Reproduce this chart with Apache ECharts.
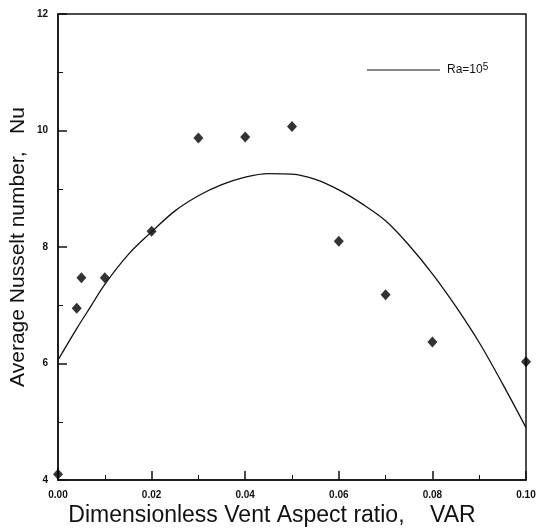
<!DOCTYPE html>
<html>
<head>
<meta charset="utf-8">
<script src="https://cdn.jsdelivr.net/npm/echarts@6/dist/echarts.min.js"></script>
<style>
  html, body { margin: 0; padding: 0; background: #fff; }
  #chart { width: 536px; height: 531px; }
</style>
</head>
<body>
<div id="chart"></div>
<script>
// measured points (diamonds)
const varPoints = [0.0, 0.004, 0.005, 0.01, 0.02, 0.03, 0.04, 0.05, 0.06, 0.07, 0.08, 0.10];
const nuPoints = [4.1, 6.95, 7.47, 7.47, 8.27, 9.87, 9.89, 10.07, 8.1, 7.18, 6.37, 6.03];

// correlation curve, Ra = 10^5
const varCurve = [0, 0.004, 0.007, 0.01, 0.015, 0.02, 0.025, 0.03, 0.035, 0.04, 0.045,
  0.05, 0.055, 0.06, 0.065, 0.07, 0.075, 0.08, 0.085, 0.09, 0.095, 0.1];
const nuCurve = [6.06, 6.6, 6.98, 7.36, 7.87, 8.26, 8.62, 8.88, 9.07, 9.2, 9.26,
  9.25, 9.16, 8.98, 8.74, 8.45, 8.03, 7.54, 6.98, 6.36, 5.65, 4.9];

const xTicks = ["0.00", "0.02", "0.04", "0.06", "0.08", "0.10"];
const legendName = "Ra=10^5";

const chart = echarts.init(document.getElementById("chart"));
const font = "Liberation Sans, Arial, sans-serif";

chart.setOption({
  animation: false,
  backgroundColor: "#fff",
  grid: {
    left: 58, right: 10, top: 14, bottom: 51,
    containLabel: false,
    outerBoundsMode: "none",
    show: true, borderColor: "#111", borderWidth: 1.5
  },
  legend: {
    data: [legendName],
    left: 362, top: 57,
    icon: "rect",
    itemWidth: 73, itemHeight: 1.2,
    itemGap: 7,
    textStyle: {
      fontFamily: font, fontSize: 12, color: "#111", padding: [0, 0, 0, 2],
      rich: { sup: { fontSize: 10, verticalAlign: "top", padding: [0, 0, 6, 0], fontFamily: font } }
    },
    formatter: function () { return "Ra=10{sup|5}"; }
  },
  xAxis: {
    type: "value",
    min: 0, max: 0.1, interval: 0.02,
    name: "Dimensionless Vent Aspect ratio,    VAR",
    nameLocation: "middle",
    nameGap: 24,
    nameMoveOverlap: false,
    nameTextStyle: { fontFamily: font, fontSize: 23, color: "#111", padding: [0, 40, 0, 0] },
    axisLine: { lineStyle: { color: "#111", width: 1.5 } },
    axisTick: { inside: true, length: 9, lineStyle: { color: "#111", width: 1.5 } },
    minorTick: { show: true, splitNumber: 2, length: 5, lineStyle: { color: "#111", width: 1 } },
    splitLine: { show: false },
    axisLabel: {
      fontFamily: font, fontSize: 10, fontWeight: "bold", color: "#111", margin: 10,
      formatter: function (v) { return xTicks[Math.round(v / 0.02)]; }
    }
  },
  yAxis: {
    type: "value",
    min: 4, max: 12, interval: 2,
    name: "Average Nusselt number,   Nu",
    nameLocation: "middle",
    nameGap: 29,
    nameMoveOverlap: false,
    nameTextStyle: { fontFamily: font, fontSize: 21, color: "#111" },
    axisLine: { lineStyle: { color: "#111", width: 1.5 } },
    axisTick: { inside: true, length: 9, lineStyle: { color: "#111", width: 1.5 } },
    minorTick: { show: true, splitNumber: 2, length: 5, lineStyle: { color: "#111", width: 1 } },
    splitLine: { show: false },
    axisLabel: { fontFamily: font, fontSize: 10, fontWeight: "bold", color: "#111", margin: 10 }
  },
  series: [
    {
      name: legendName,
      type: "line",
      smooth: 0.35,
      showSymbol: false,
      data: varCurve.map((x, i) => [x, nuCurve[i]]),
      lineStyle: { color: "#111", width: 1.3 },
      itemStyle: { color: "#111" }
    },
    {
      name: "data",
      type: "scatter",
      symbol: "diamond",
      symbolSize: [10, 11],
      data: varPoints.map((x, i) => [x, nuPoints[i]]),
      itemStyle: { color: "#000" },
      clip: false
    }
  ]
});
</script>
</body>
</html>
